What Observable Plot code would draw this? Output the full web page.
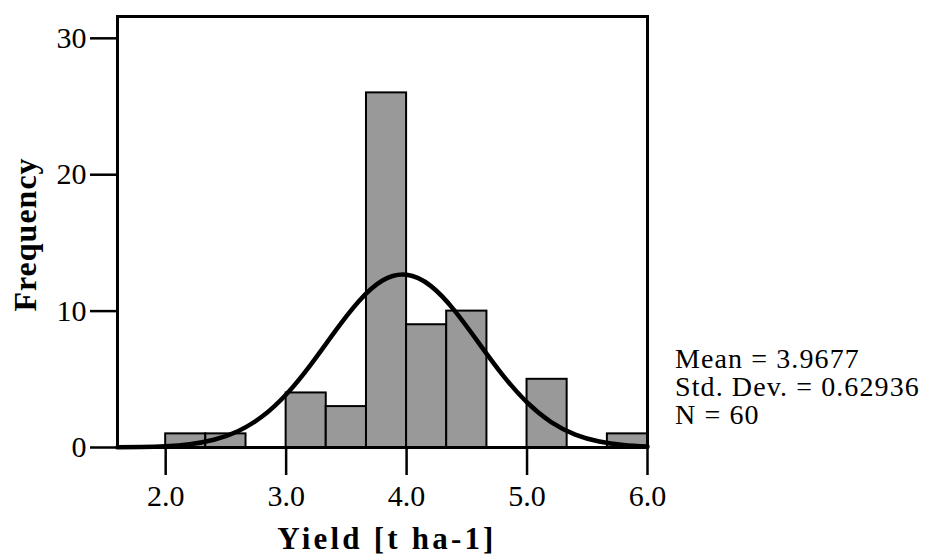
<!DOCTYPE html>
<html>
<head>
<meta charset="utf-8">
<script src="https://cdn.jsdelivr.net/npm/d3@7"></script>
<script src="https://cdn.jsdelivr.net/npm/@observablehq/plot@0.6"></script>
<style>
  html, body { margin: 0; padding: 0; background: #fff; }
</style>
</head>
<body>
<div id="chart"></div>
<script>
// Histogram bins (width 1/3 t ha-1)
const binLo  = [2.000, 2.333, 2.667, 3.000, 3.333, 3.667, 4.000, 4.333, 4.667, 5.000, 5.333, 5.667];
const binHi  = [2.333, 2.667, 3.000, 3.333, 3.667, 4.000, 4.333, 4.667, 5.000, 5.333, 5.667, 6.000];
const counts = [1, 1, 0, 4, 3, 26, 9, 10, 0, 5, 0, 1];

// Fitted normal curve
const curveX = [1.6, 1.8, 2.0, 2.2, 2.4, 2.6, 2.8, 3.0, 3.2, 3.4, 3.6, 3.8, 4.0, 4.2, 4.4, 4.6, 4.8, 5.0, 5.2, 5.4, 5.6, 5.8, 6.0];
const curveY = [0.011, 0.034, 0.096, 0.246, 0.570, 1.196, 2.267, 3.888, 6.026, 8.443, 10.69, 12.24, 12.66, 11.85, 10.02, 7.655, 5.289, 3.303, 1.864, 0.951, 0.439, 0.183, 0.069];

const xTicks = [2, 3, 4, 5, 6];
const yTicks = [0, 10, 20, 30];
const statLines = ["Mean = 3.9677", "Std. Dev. = 0.62936", "N = 60"];
const xTitle = "Yield [t ha-1]";
const yTitle = "Frequency";

const bins = binLo.map((lo, i) => ({x1: lo, x2: binHi[i], y: counts[i]})).filter(d => d.y > 0);
const curve = curveX.map((x, i) => ({x, y: curveY[i]}));

const W = 925, H = 558;
const chart = Plot.plot({
  width: W,
  height: H,
  marginLeft: 117,
  marginRight: 278,
  marginTop: 16,
  marginBottom: 111,
  style: {fontFamily: "'Liberation Serif', 'Times New Roman', serif", fontSize: "30px", color: "black", background: "white", overflow: "visible"},
  x: {domain: [1.6, 6.0], ticks: xTicks, tickFormat: d3.format(".1f"), tickSize: 28, tickPadding: 9, label: null},
  y: {domain: [0, 31.6], ticks: yTicks, tickFormat: d3.format("d"), tickSize: 27, tickPadding: 4, label: null},
  marks: [
    Plot.rect(bins, {x1: "x1", x2: "x2", y1: 0, y2: "y", fill: "#999999", stroke: "black", strokeWidth: 2}),
    Plot.line(curve, {x: "x", y: "y", stroke: "black", strokeWidth: 4.5, curve: "natural"}),
    Plot.frame({stroke: "black", strokeWidth: 3}),
    Plot.axisX({ticks: xTicks, tickFormat: d3.format(".1f"), tickSize: 28, tickPadding: 9, strokeWidth: 2.5, label: null}),
    Plot.axisY({ticks: yTicks, tickFormat: d3.format("d"), tickSize: 27, tickPadding: 4, strokeWidth: 2.5, label: null})
  ]
});

const svg = d3.select(chart);
// Axis titles
svg.append("text")
  .attr("x", (117 + (W - 278)) / 2 + 5)
  .attr("y", 549)
  .attr("text-anchor", "middle")
  .attr("font-weight", "bold")
  .attr("font-size", 31)
  .attr("letter-spacing", 3.2)
  .attr("fill", "black")
  .text(xTitle);

svg.append("text")
  .attr("transform", `translate(36, ${(16 + 447) / 2 + 3}) rotate(-90)`)
  .attr("text-anchor", "middle")
  .attr("font-weight", "bold")
  .attr("font-size", 32)
  .attr("letter-spacing", 1)
  .attr("fill", "black")
  .text(yTitle);

// Statistics box
svg.append("g")
  .attr("text-anchor", "start")
  .selectAll("text")
  .data(statLines)
  .join("text")
  .attr("x", 675)
  .attr("y", (d, i) => 368 + i * 28)
  .attr("text-anchor", "start")
  .attr("font-size", 28)
  .attr("letter-spacing", 1.1)
  .attr("fill", "black")
  .text(d => d);

document.getElementById("chart").appendChild(chart);
</script>
</body>
</html>
